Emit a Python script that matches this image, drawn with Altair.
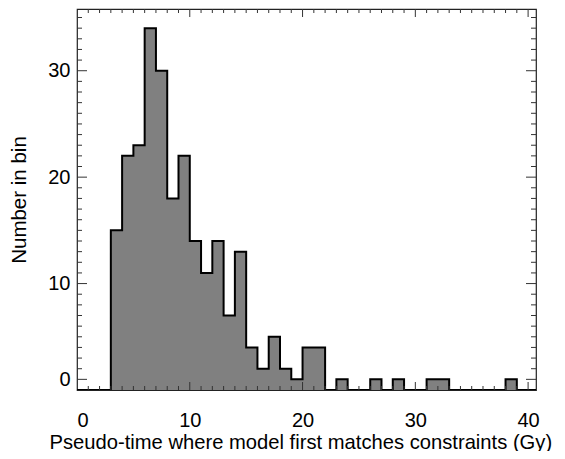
import altair as alt
import pandas as pd

# Histogram: left edge of each 1-Gy bin and the number in that bin
bin_left = list(range(0, 41))
counts = [0, 0, 0, 15, 22, 23, 34, 30, 18, 22,
          14, 11, 14, 7, 13, 4, 2, 5, 2, 1,
          4, 4, 0, 1, 0, 0, 1, 0, 1, 0,
          0, 1, 1, 0, 0, 0, 0, 0, 1, 0,
          0]

x_label_values = [0, 10, 20, 30, 40]
x_major_ticks = [10, 20, 30, 40]
x_minor_ticks = [v for v in range(1, 41) if v not in x_major_ticks]
y_major_ticks = [1, 10, 20, 30]
y_tick_labels = ["0", "10", "20", "30"]
y_minor_ticks = [v for v in range(2, 36) if v not in y_major_ticks]

x_title = "Pseudo-time where model first matches constraints (Gy)"
y_title = "Number in bin"

W, H = 459, 381
FONT = "Liberation Sans"
TICK = "#333333"

hist = pd.DataFrame({"x": bin_left + [41], "c": counts + [0]})

xs = alt.Scale(domain=[0, 40.7], nice=False, zero=False)
ys = alt.Scale(domain=[0, 35.8], nice=False, zero=False)

label_expr = " : ".join(
    [f"datum.value == {v} ? '{l}'" for v, l in zip(y_major_ticks, y_tick_labels)]
) + " : ''"

x_axis = alt.Axis(values=x_label_values, ticks=False, tickSize=0, domain=False,
                  grid=False, labelPadding=20, labelFontSize=20, labelFont=FONT,
                  labelColor="black", title=x_title, titleFont=FONT,
                  titleFontSize=20.2, titleFontWeight="normal", titleColor="black",
                  titlePadding=2, titleX=-28, titleAlign="left")
y_axis = alt.Axis(values=y_major_ticks, labelExpr=label_expr, ticks=False,
                  tickSize=0, domain=False, grid=False, labelPadding=7,
                  labelFontSize=20, labelFont=FONT, labelColor="black",
                  title=y_title, titleFont=FONT, titleFontSize=20.5,
                  titleFontWeight="normal", titleColor="black", titlePadding=18)


def X(field):
    return alt.X(field, type="quantitative", scale=xs, axis=x_axis)


def Y(field):
    return alt.Y(field, type="quantitative", scale=ys, axis=y_axis)


area = alt.Chart(hist).mark_area(interpolate="step-after", color="#808080",
                                 clip=True).encode(x=X("x"), y=Y("c"))
outline = alt.Chart(hist).mark_line(interpolate="step-after", color="black",
                                    strokeWidth=2, clip=True).encode(x=X("x"), y=Y("c"))


def xticks(vals, length):
    d = pd.DataFrame({"v": vals})
    bottom = alt.Chart(d).mark_rule(color=TICK, strokeWidth=1).encode(
        x=X("v"), y=alt.value(H), y2=alt.value(H - length))
    top = alt.Chart(d).mark_rule(color=TICK, strokeWidth=1).encode(
        x=X("v"), y=alt.value(0), y2=alt.value(length))
    return [bottom, top]


def yticks(vals, length):
    d = pd.DataFrame({"v": vals})
    left = alt.Chart(d).mark_rule(color=TICK, strokeWidth=1).encode(
        y=Y("v"), x=alt.value(0), x2=alt.value(length))
    right = alt.Chart(d).mark_rule(color=TICK, strokeWidth=1).encode(
        y=Y("v"), x=alt.value(W), x2=alt.value(W - length))
    return [left, right]


layers = [area, outline]
layers += xticks(x_minor_ticks, 4) + xticks(x_major_ticks, 8)
layers += yticks(y_minor_ticks, 5) + yticks(y_major_ticks, 10)

chart = alt.layer(*layers).properties(
    width=W, height=H,
    autosize=alt.AutoSizeParams(type="none"),
    padding={"left": 69, "top": 1, "right": 21, "bottom": 61},
).configure_view(stroke="#222222", strokeWidth=1.2)

chart.save("out.html", embed_options={"renderer": "svg", "actions": False})
